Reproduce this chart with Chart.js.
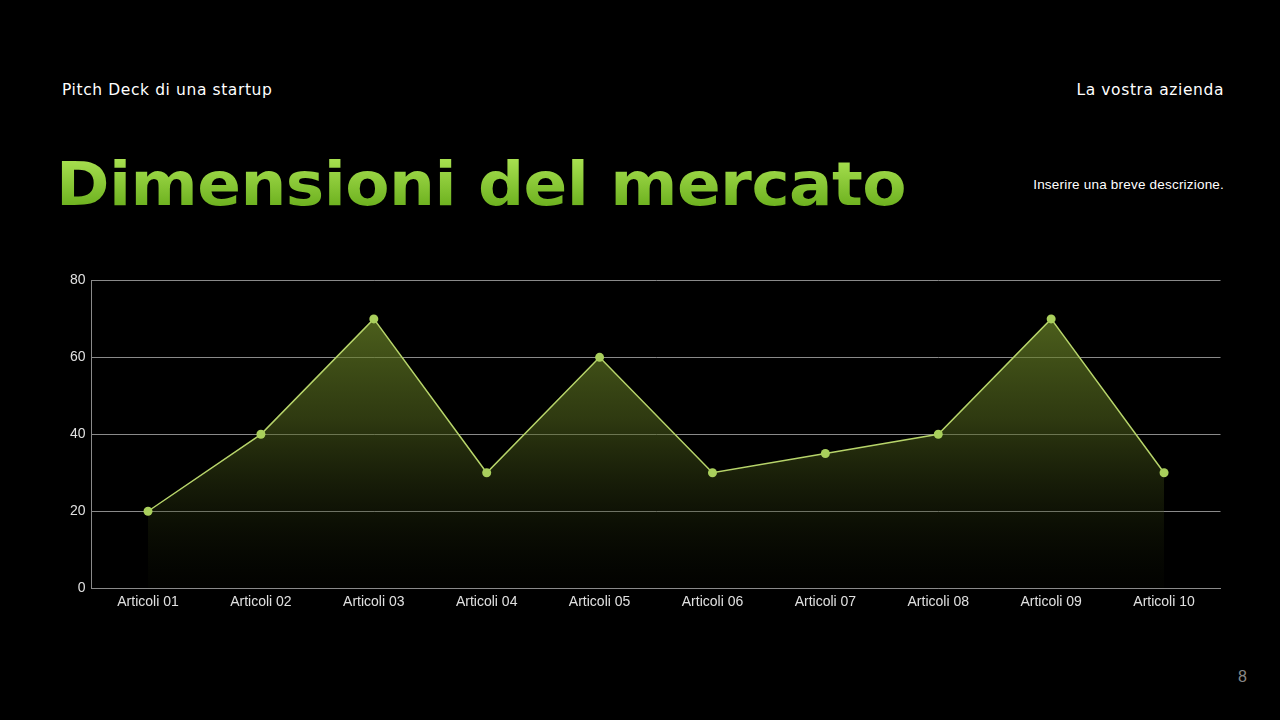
<!DOCTYPE html>
<html>
<head>
<meta charset="utf-8">
<script src="https://cdn.jsdelivr.net/npm/chart.js@4"></script>
<style>
  html, body { margin: 0; padding: 0; background: #000; }
  body { width: 1280px; height: 720px; position: relative; overflow: hidden; font-family: "Liberation Sans", sans-serif; }
  .top { position: absolute; top: 81px; color: #fff; font-family: "DejaVu Sans", sans-serif; font-size: 15.5px; letter-spacing: 0.6px; }
  #left { left: 62px; }
  #right { right: 56px; }
  h1 {
    position: absolute; left: 56px; top: 149px; margin: 0;
    font-family: "DejaVu Sans", sans-serif; font-weight: bold; font-size: 60px; letter-spacing: -0.5px;
    transform: scaleX(1.075); transform-origin: left center;
    background: linear-gradient(#b4ea5a, #5da412);
    -webkit-background-clip: text; background-clip: text; color: transparent;
  }
  #desc { position: absolute; right: 56px; top: 177px; color: #fff; font-size: 13.5px; letter-spacing: 0.2px; }
  #page { position: absolute; right: 33px; top: 668px; color: #888; font-size: 16px; }
  #wrap { position: absolute; left: 64px; top: 266px; width: 1161px; height: 351px; }
</style>
</head>
<body>
<div class="top" id="left">Pitch Deck di una startup</div>
<div class="top" id="right">La vostra azienda</div>
<h1>Dimensioni del mercato</h1>
<div id="desc">Inserire una breve descrizione.</div>
<div id="page">8</div>
<div id="wrap"><canvas id="myChart"></canvas></div>
<script>
const categories = ["Articoli 01", "Articoli 02", "Articoli 03", "Articoli 04", "Articoli 05",
  "Articoli 06", "Articoli 07", "Articoli 08", "Articoli 09", "Articoli 10"];
const values = [20, 40, 70, 30, 60, 30, 35, 40, 70, 30];
const yTicks = [0, 20, 40, 60, 80];

function fillGradient(context) {
  const area = context.chart.chartArea;
  if (!area) return "rgba(0,0,0,0)";
  const g = context.chart.ctx.createLinearGradient(0, area.top, 0, area.bottom);
  g.addColorStop(0, "rgba(120,150,45,0.75)");
  g.addColorStop(0.45, "rgba(85,105,30,0.55)");
  g.addColorStop(1, "rgba(20,25,5,0.1)");
  return g;
}

new Chart(document.getElementById("myChart"), {
  type: "line",
  data: {
    labels: categories,
    datasets: [{
      data: values,
      borderColor: "#b7d46a",
      borderWidth: 1.5,
      backgroundColor: fillGradient,
      fill: "origin",
      tension: 0,
      pointRadius: 4.5,
      pointBackgroundColor: "#a9cf5c",
      pointBorderWidth: 0,
    }],
  },
  options: {
    responsive: true,
    maintainAspectRatio: false,
    animation: false,
    plugins: { legend: { display: false }, tooltip: { enabled: false } },
    scales: {
      x: {
        offset: true,
        grid: { display: false, drawTicks: false },
        border: { color: "#8a8a8a", width: 1 },
        ticks: { color: "#e0e0e0", font: { family: "Liberation Sans", size: 14 }, padding: 6 },
      },
      y: {
        min: 0,
        max: 80,
        afterBuildTicks: (axis) => { axis.ticks = yTicks.map((v) => ({ value: v })); },
        grid: { color: "#8a8a8a", lineWidth: 1, drawTicks: false },
        border: { color: "#8a8a8a", width: 1 },
        ticks: { color: "#e0e0e0", font: { family: "Liberation Sans", size: 14 }, padding: 6 },
      },
    },
  },
});
</script>
</body>
</html>
